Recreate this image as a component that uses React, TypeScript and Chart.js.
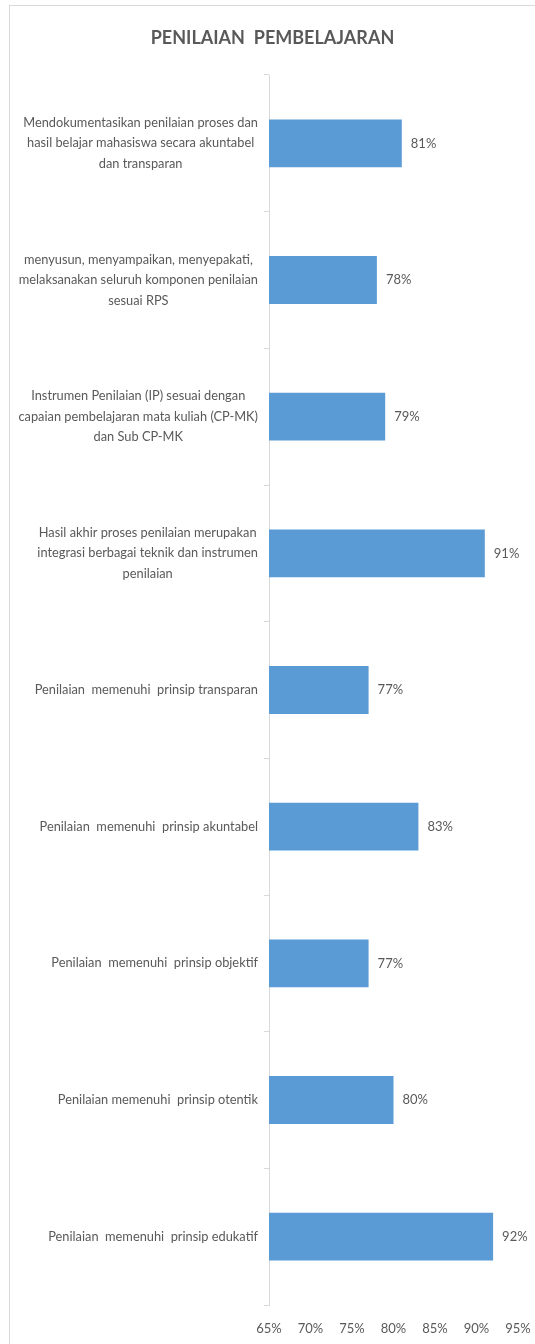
import React, { useEffect, useRef } from "react";
import { Chart, registerables } from "chart.js";

Chart.register(...registerables);

const chartTitle = "PENILAIAN  PEMBELAJARAN";
const categories: string[][] = [
  ["Mendokumentasikan penilaian proses dan", "hasil belajar mahasiswa secara akuntabel", "dan transparan"],
  ["menyusun, menyampaikan, menyepakati,", "melaksanakan seluruh komponen penilaian", "sesuai RPS"],
  ["Instrumen Penilaian (IP) sesuai dengan", "capaian pembelajaran mata kuliah (CP-MK)", "dan Sub CP-MK"],
  ["Hasil akhir proses penilaian merupakan", "integrasi berbagai teknik dan instrumen", "penilaian"],
  ["Penilaian  memenuhi  prinsip transparan"],
  ["Penilaian  memenuhi  prinsip akuntabel"],
  ["Penilaian  memenuhi  prinsip objektif"],
  ["Penilaian memenuhi  prinsip otentik"],
  ["Penilaian  memenuhi  prinsip edukatif"],
];
const values = [81, 78, 79, 91, 77, 83, 77, 80, 92];
const xMin = 65;
const xMax = 95;
const xStep = 5;

const FONT = "Lato";
const TEXT = "#595959";
const BAR = "#5B9BD5";
const LINE = "#D9D9D9";

export default function App() {
  const ref = useRef<HTMLCanvasElement | null>(null);

  useEffect(() => {
    if (!ref.current) return;

    const yLabels = {
      id: "yLabels",
      afterDraw(chart: any) {
        const { ctx, chartArea } = chart;
        const ys = chart.scales.y;
        ctx.save();
        ctx.font = `12.8px ${FONT}`;
        ctx.fillStyle = TEXT;
        ctx.textAlign = "center";
        ctx.textBaseline = "middle";
        const lh = 20.5;
        categories.forEach((lines, i) => {
          const y = ys.getPixelForValue(i);
          const maxW = Math.max(...lines.map((l) => ctx.measureText(l).width));
          const right = chartArea.left - 11;
          const cx = right - maxW / 2;
          const y0 = y - ((lines.length - 1) * lh) / 2;
          lines.forEach((l, j) => ctx.fillText(l, cx, y0 + j * lh));
        });
        ctx.restore();
      },
    };

    const dataLabels = {
      id: "dataLabels",
      afterDatasetsDraw(chart: any) {
        const { ctx } = chart;
        const meta = chart.getDatasetMeta(0);
        ctx.save();
        ctx.font = `13px ${FONT}`;
        ctx.fillStyle = TEXT;
        ctx.textAlign = "left";
        ctx.textBaseline = "middle";
        meta.data.forEach((el: any, i: number) => {
          ctx.fillText(values[i] + "%", el.x + 9, el.y);
        });
        ctx.restore();
      },
    };

    const chart = new Chart(ref.current, {
      type: "bar",
      data: {
        labels: categories.map((c) => c.join(" ")),
        datasets: [
          {
            data: values,
            backgroundColor: BAR,
            borderWidth: 0,
            categoryPercentage: 1,
            barPercentage: 0.35,
          },
        ],
      },
      options: {
        indexAxis: "y",
        responsive: false,
        animation: false,
        layout: { padding: 0 },
        plugins: {
          legend: { display: false },
          tooltip: { enabled: false },
          title: {
            display: true,
            text: chartTitle,
            color: TEXT,
            font: { family: FONT, size: 18, weight: "bold" },
            padding: { top: 21, bottom: 26.4 },
          },
        },
        scales: {
          x: {
            min: xMin,
            max: xMax,
            ticks: {
              stepSize: xStep,
              color: TEXT,
              font: { family: FONT, size: 13 },
              padding: 16,
              callback: (v: any) => v + "%",
            },
            grid: { display: false, drawTicks: false },
            border: { display: false },
            afterFit: (s: any) => {
              s.height = 39;
              s.paddingRight = 17;
              s.paddingLeft = 0;
            },
          },
          y: {
            ticks: { display: false },
            grid: {
              display: true,
              drawOnChartArea: false,
              drawTicks: true,
              tickLength: 5,
              color: LINE,
              offset: true,
            },
            border: { display: true, color: LINE },
            afterFit: (s: any) => {
              s.width = 259;
            },
          },
        },
      },
      plugins: [yLabels, dataLabels],
    });
    return () => chart.destroy();
  }, []);

  return (
    <div
      style={{
        position: "absolute",
        left: 9,
        top: 5,
        width: 560,
        height: 1400,
        borderLeft: `1px solid ${LINE}`,
        borderTop: `1px solid ${LINE}`,
        background: "#fff",
      }}
    >
      <canvas ref={ref} width={525} height={1338} style={{ display: "block" }} />
    </div>
  );
}
